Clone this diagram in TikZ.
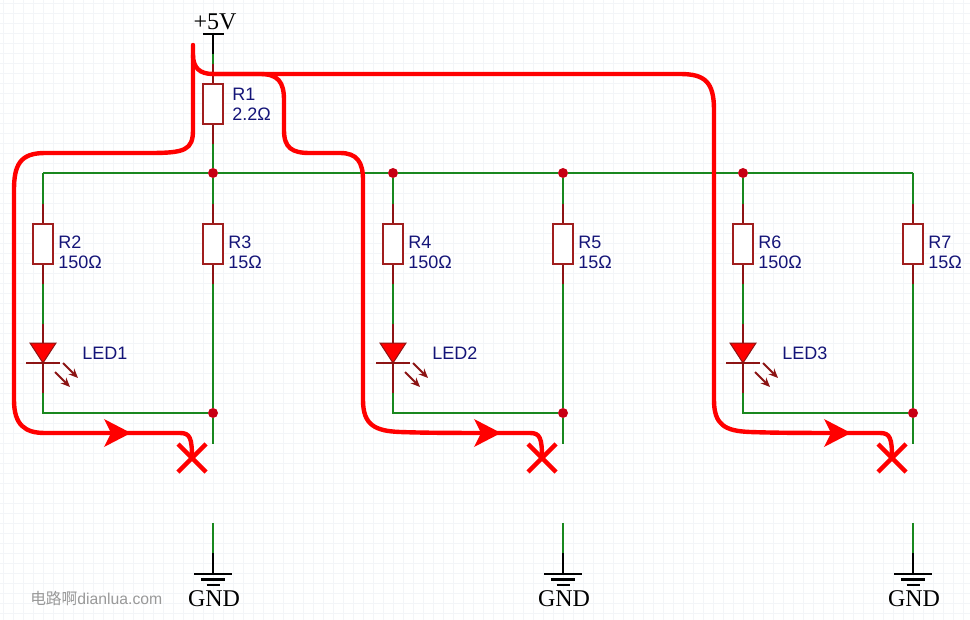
\documentclass[tikz,border=0pt]{standalone}
\usepackage{fontspec}
\usetikzlibrary{arrows.meta}
\setmainfont{Liberation Serif}
\setsansfont{Liberation Sans}
\newfontfamily\cjkmark{Noto Sans CJK SC}
\definecolor{wiregreen}{RGB}{25,135,30}
\definecolor{leadred}{RGB}{140,20,20}
\definecolor{bodyred}{RGB}{160,30,30}
\definecolor{dotred}{RGB}{200,0,20}
\definecolor{labelblue}{RGB}{20,20,120}
\definecolor{gridgrey}{RGB}{243,245,248}
\tikzset{
  wire/.style={draw=wiregreen,line width=1.8pt},
  lead/.style={draw=leadred,line width=1.8pt},
  rail/.style={draw=black,line width=1.8pt},
  flow/.style={draw=red,line width=3.3pt,line cap=round},
  resistor/.style={draw=bodyred,line width=1.8pt,fill=white,rectangle,minimum width=15pt,minimum height=30pt,inner sep=0pt},
  junction/.style={circle,fill=dotred,minimum size=7.5pt,inner sep=0pt},
  partlabel/.style={text=labelblue,font=\sffamily\fontsize{13.5}{14.6}\selectfont,align=left,anchor=west,inner sep=0pt},
  powerlabel/.style={text=black,font=\fontsize{18}{20}\selectfont,inner sep=0pt},
  flowtip/.pic={\fill[red] (0,0) -- (-27,-14) -- (-20,0) -- (-27,14) -- cycle;},
  breakmark/.pic={\draw[red,line width=3.3pt] (-14,-14) -- (14,14) (-14,14) -- (14,-14);},
  gndmark/.pic={\draw[black,line width=1.6pt] (-19,0) -- (19,0) (-12,-5.5) -- (12,-5.5) (-6.5,-11) -- (6.5,-11);},
  ledmark/.pic={
    \fill[red,draw=leadred,line width=0.75pt] (-13,20) -- (13,20) -- (0,0) -- cycle;
    \draw[leadred,line width=1.8pt] (-17,0) -- (17,0);
    \draw[leadred,line width=1.4pt,-{Stealth[length=7pt,width=6pt]}] (20,0) -- (35,-15);
    \draw[leadred,line width=1.4pt,-{Stealth[length=7pt,width=6pt]}] (12,-9) -- (27,-24);
  }
}

\begin{document}
\begin{tikzpicture}[x=0.75pt,y=0.75pt,yscale=-1]
\useasboundingbox (0,0) rectangle (970,620);
\fill[white] (0,0) rectangle (970,620);

%Grid
\draw[gridgrey,line width=0.5pt,shift={(3,3)},step=7.5pt] (-3,-3) grid (967,617);

%Power and top bus
\coordinate (vcc) at (213,34);
\coordinate (vccend) at (213,54);
\coordinate (r1top) at (213,64);
\node[junction] (j1) at (213,173) {};
\node[junction] (j2) at (393,173) {};
\node[junction] (j3) at (563,173) {};
\node[junction] (j4) at (743,173) {};
\coordinate (busleft) at (43,173);
\coordinate (busright) at (913,173);
\node[powerlabel] (vcclabel) at (215,22) {+5V};
\draw[rail] (203,34) -- (224,34);
\draw[rail] (vcc) -- (vccend);
\draw[wire] (vccend) -- (r1top);
\draw[wire] (busleft) -- (j1) -- (j2) -- (j3) -- (j4) -- (busright);

%R1
\node[resistor] (r1) at (213,104) {};
\coordinate (r1end) at (213,144);
\draw[lead] (r1top) -- (r1.north);
\draw[lead] (r1.south) -- (r1end);
\draw[wire] (r1end) -- (j1);
\node[partlabel] (r1label) at (232,104.5) {R1\\2.2Ω};

%Branch 1
\node[resistor] (r2) at (43,244) {};
\node[resistor] (r3) at (213,244) {};
\node[partlabel] (r2label) at (58,252.5) {R2\\150Ω};
\node[partlabel] (r3label) at (228,252.5) {R3\\15Ω};
\node[partlabel] (led1label) at (82,353) {LED1};
\coordinate (r2a) at (43,204);
\coordinate (r2b) at (43,284);
\coordinate (r3a) at (213,204);
\coordinate (r3b) at (213,284);
\coordinate (led1a) at (43,324);
\coordinate (led1b) at (43,393);
\coordinate (bot1) at (43,413);
\node[junction] (j5) at (213,413) {};
\coordinate (cut1) at (213,444);
\coordinate (gnd1a) at (213,523);
\coordinate (gnd1b) at (213,553);
\coordinate (gnd1) at (213,574);
\draw[wire] (busleft) -- (r2a);
\draw[lead] (r2a) -- (r2.north);
\draw[lead] (r2.south) -- (r2b);
\draw[wire] (r2b) -- (led1a);
\draw[lead] (led1a) -- (led1b);
\draw[wire] (led1b) -- (bot1) -- (j5);
\pic at (43,363) {ledmark};
\draw[wire] (j1) -- (r3a);
\draw[lead] (r3a) -- (r3.north);
\draw[lead] (r3.south) -- (r3b);
\draw[wire] (r3b) -- (j5) -- (cut1);
\draw[wire] (gnd1a) -- (gnd1b);
\draw[rail] (gnd1b) -- (gnd1);
\pic at (gnd1) {gndmark};
\node[powerlabel] (gnd1label) at (214,599) {GND};

%Branch 2
\node[resistor] (r4) at (393,244) {};
\node[resistor] (r5) at (563,244) {};
\node[partlabel] (r4label) at (408,252.5) {R4\\150Ω};
\node[partlabel] (r5label) at (578,252.5) {R5\\15Ω};
\node[partlabel] (led2label) at (432,353) {LED2};
\coordinate (r4a) at (393,204);
\coordinate (r4b) at (393,284);
\coordinate (r5a) at (563,204);
\coordinate (r5b) at (563,284);
\coordinate (led2a) at (393,324);
\coordinate (led2b) at (393,393);
\coordinate (bot2) at (393,413);
\node[junction] (j6) at (563,413) {};
\coordinate (cut2) at (563,444);
\coordinate (gnd2a) at (563,523);
\coordinate (gnd2b) at (563,553);
\coordinate (gnd2) at (563,574);
\draw[wire] (j2) -- (r4a);
\draw[lead] (r4a) -- (r4.north);
\draw[lead] (r4.south) -- (r4b);
\draw[wire] (r4b) -- (led2a);
\draw[lead] (led2a) -- (led2b);
\draw[wire] (led2b) -- (bot2) -- (j6);
\pic at (393,363) {ledmark};
\draw[wire] (j3) -- (r5a);
\draw[lead] (r5a) -- (r5.north);
\draw[lead] (r5.south) -- (r5b);
\draw[wire] (r5b) -- (j6) -- (cut2);
\draw[wire] (gnd2a) -- (gnd2b);
\draw[rail] (gnd2b) -- (gnd2);
\pic at (gnd2) {gndmark};
\node[powerlabel] (gnd2label) at (564,599) {GND};

%Branch 3
\node[resistor] (r6) at (743,244) {};
\node[resistor] (r7) at (913,244) {};
\node[partlabel] (r6label) at (758,252.5) {R6\\150Ω};
\node[partlabel] (r7label) at (928,252.5) {R7\\15Ω};
\node[partlabel] (led3label) at (782,353) {LED3};
\coordinate (r6a) at (743,204);
\coordinate (r6b) at (743,284);
\coordinate (r7a) at (913,204);
\coordinate (r7b) at (913,284);
\coordinate (led3a) at (743,324);
\coordinate (led3b) at (743,393);
\coordinate (bot3) at (743,413);
\node[junction] (j7) at (913,413) {};
\coordinate (cut3) at (913,444);
\coordinate (gnd3a) at (913,523);
\coordinate (gnd3b) at (913,553);
\coordinate (gnd3) at (913,574);
\draw[wire] (j4) -- (r6a);
\draw[lead] (r6a) -- (r6.north);
\draw[lead] (r6.south) -- (r6b);
\draw[wire] (r6b) -- (led3a);
\draw[lead] (led3a) -- (led3b);
\draw[wire] (led3b) -- (bot3) -- (j7);
\pic at (743,363) {ledmark};
\draw[wire] (busright) -- (r7a);
\draw[lead] (r7a) -- (r7.north);
\draw[lead] (r7.south) -- (r7b);
\draw[wire] (r7b) -- (j7) -- (cut3);
\draw[wire] (gnd3a) -- (gnd3b);
\draw[rail] (gnd3b) -- (gnd3);
\pic at (gnd3) {gndmark};
\node[powerlabel] (gnd3label) at (914,599) {GND};

%Fault current paths
\coordinate (flowstart) at (193,45);
\coordinate (flowsplit) at (213,74);
\coordinate (stop1) at (192,458);
\coordinate (stop2) at (542,458);
\coordinate (stop3) at (892,458);
\draw[flow] (flowstart) -- (193,130) .. controls (193,150) and (185,153) .. (150,153) -- (45,153) .. controls (20,153) and (14,165) .. (14,190) -- (14,400) .. controls (14,425) and (25,433) .. (45,433) -- (180,433) .. controls (190,433) and (192,438) .. (stop1);
\draw[flow] (193,55) .. controls (193,68) and (200,74) .. (flowsplit) -- (260,74) .. controls (278,74) and (284,82) .. (284,100) -- (284,130) .. controls (284,148) and (292,153) .. (310,153) -- (340,153) .. controls (357,153) and (363,162) .. (363,180) -- (363,400) .. controls (363,425) and (375,431) .. (400,432) .. controls (430,433) and (450,433) .. (530,433) .. controls (540,433) and (542,438) .. (stop2);
\draw[flow] (flowsplit) -- (680,74) .. controls (705,74) and (714,82) .. (714,110) -- (714,400) .. controls (714,425) and (725,431) .. (750,432) .. controls (780,433) and (800,433) .. (880,433) .. controls (890,433) and (892,438) .. (stop3);
\pic at (131,433) {flowtip};
\pic at (501,433) {flowtip};
\pic at (851,433) {flowtip};
\pic at (stop1) {breakmark};
\pic at (stop2) {breakmark};
\pic at (stop3) {breakmark};

%Watermark
\node[text=black!40,font=\fontsize{11.8}{13}\selectfont,inner sep=0pt,anchor=west] (mark) at (30,599) {\cjkmark 电路啊\sffamily dianlua.com};
\end{tikzpicture}
\end{document}
